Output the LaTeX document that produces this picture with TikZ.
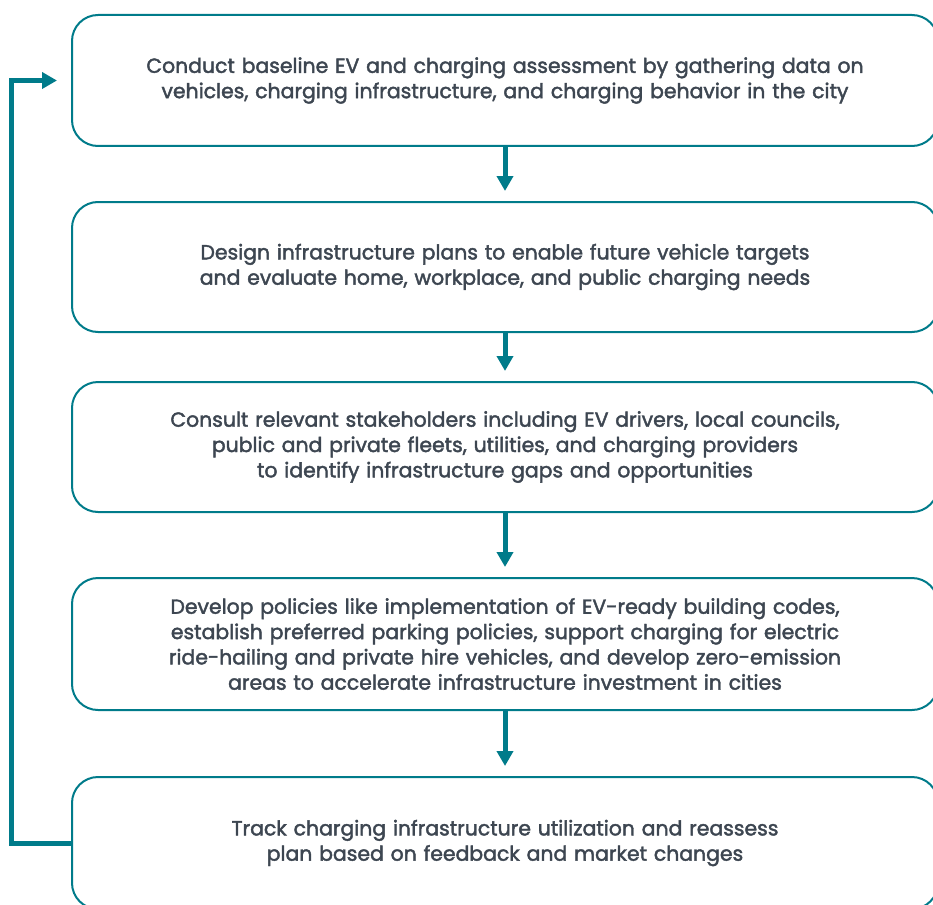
\documentclass[tikz,border=0pt]{standalone}
\usepackage{fontspec}
\setmainfont{Poppins}
\newfontfamily\stepfont{Poppins}[FakeBold=2]
\usepackage{xcolor}
\usetikzlibrary{positioning,arrows.meta}
\definecolor{teal}{HTML}{007B8A}
\definecolor{slate}{HTML}{3D4651}

\begin{document}
\begin{tikzpicture}[x=1pt, y=-1pt,
    stepbox/.style={draw=teal, line width=2pt, rounded corners=26pt, fill=white,
        minimum width=866pt, text width=840pt, align=center, text=slate,
        font=\stepfont\fontsize{20.4}{25.3}\selectfont},
    flow/.style={draw=teal, line width=5pt, -{Triangle[length=15pt,width=16pt]}}]
    \useasboundingbox (0,0) rectangle (933,904);

    % Steps
    \node[stepbox, minimum height=131pt] (assess) at (505,80.5)
        {Conduct baseline EV and charging assessment by gathering data on\\
         vehicles, charging infrastructure, and charging behavior in the city};
    \node[stepbox, minimum height=130pt] (design) at (505,267)
        {Design infrastructure plans to enable future vehicle targets\\
         and evaluate home, workplace, and public charging needs};
    \node[stepbox, minimum height=130pt] (consult) at (505,447)
        {Consult relevant stakeholders including EV drivers, local councils,\\
         public and private fleets, utilities, and charging providers\\
         to identify infrastructure gaps and opportunities};
    \node[stepbox, minimum height=132pt] (policy) at (505,644)
        {Develop policies like implementation of EV-ready building codes,\\
         establish preferred parking policies, support charging for electric\\
         ride-hailing and private hire vehicles, and develop zero-emission\\
         areas to accelerate infrastructure investment in cities};
    \node[stepbox, minimum height=132pt] (track) at (505,843)
        {Track charging infrastructure utilization and reassess\\
         plan based on feedback and market changes};

    % Arrows between steps
    \draw[flow, shorten >=10pt] (assess) -- (design);
    \draw[flow, shorten >=10pt] (design) -- (consult);
    \draw[flow, shorten >=10pt] (consult) -- (policy);
    \draw[flow, shorten >=10pt] (policy) -- (track);

    % Feedback loop
    \draw[flow, shorten >=14pt] (track.west) -- ++(-60,0) |- (assess.west);
\end{tikzpicture}
\end{document}
